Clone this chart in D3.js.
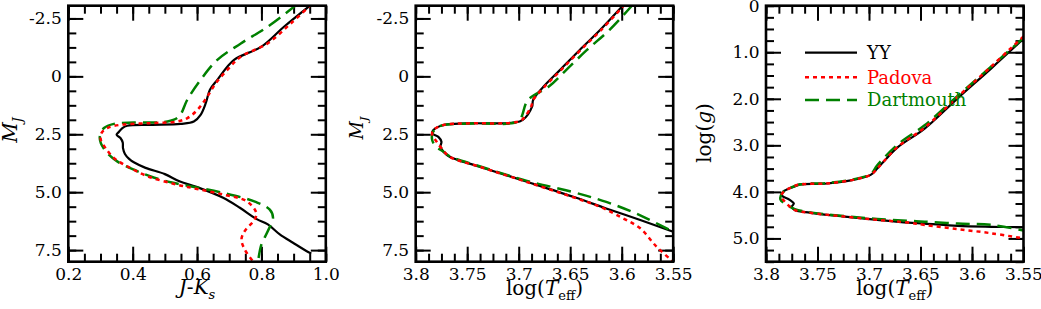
<!DOCTYPE html>
<html>
<head>
<meta charset="utf-8">
<script src="https://cdn.jsdelivr.net/npm/d3@7"></script>
<style>
  body { margin: 0; background: #fff; }
  text { font-family: "DejaVu Serif", serif; }
</style>
</head>
<body>
<svg id="chart" width="1041" height="309"></svg>
<script>
// ---- isochrone tracks ----
// panel 1: [J-Ks, M_J]
var cmdYY = [[0.955,-3.1],[0.87,-2.14],[0.80,-1.28],[0.715,-0.71],[0.663,0.15],[0.640,0.58],[0.627,1.16],[0.611,1.66],
  [0.59,1.95],[0.549,2.05],[0.456,2.09],[0.383,2.13],[0.368,2.23],[0.357,2.40],[0.350,2.52],[0.362,2.66],[0.369,2.85],
  [0.370,3.10],[0.376,3.35],[0.388,3.55],[0.405,3.72],[0.44,3.95],[0.50,4.22],[0.547,4.54],[0.598,4.77],[0.681,5.24],
  [0.733,5.67],[0.784,6.15],[0.820,6.39],[0.857,6.82],[0.898,7.18],[0.945,7.58],[0.955,7.65]];
var cmdPadova = [[0.955,-3.1],[0.891,-2.28],[0.819,-1.42],[0.736,-0.85],[0.694,-0.28],[0.658,0.30],[0.632,0.87],[0.601,1.45],
  [0.570,1.80],[0.539,1.95],[0.456,2.02],[0.363,2.09],[0.321,2.23],[0.303,2.45],[0.301,2.74],[0.316,3.10],[0.342,3.53],
  [0.383,3.88],[0.446,4.31],[0.536,4.67],[0.60,4.86],[0.681,5.10],[0.754,5.39],[0.784,5.89],[0.779,6.18],[0.748,6.68],
  [0.738,7.04],[0.748,7.47],[0.772,7.95]];
var cmdDartmouth = [[0.91,-3.1],[0.819,-2.14],[0.736,-1.42],[0.663,-0.71],[0.611,0.15],[0.570,1.0],[0.544,1.73],[0.508,1.95],
  [0.404,1.99],[0.342,2.05],[0.311,2.23],[0.298,2.59],[0.301,2.88],[0.321,3.31],[0.352,3.67],[0.404,4.03],[0.456,4.32],
  [0.518,4.57],[0.567,4.71],[0.691,5.06],[0.784,5.43],[0.826,5.75],[0.836,6.10],[0.820,6.68],[0.800,7.25],[0.790,7.95]];

// panel 2: [log Teff, M_J]
var hrjYY = [[3.598,-3.1],[3.621,-2.0],[3.641,-1.13],[3.660,-0.27],[3.676,0.45],[3.686,1.02],[3.687,1.31],[3.696,1.88],
  [3.705,2.0],[3.750,2.03],[3.773,2.10],[3.783,2.32],[3.784,2.46],[3.778,2.61],[3.775,2.82],[3.776,3.04],[3.773,3.25],
  [3.767,3.47],[3.738,3.90],[3.692,4.55],[3.647,5.20],[3.615,5.70],[3.582,6.20],[3.55,6.71]];
var hrjPadova = [[3.597,-3.1],[3.620,-2.0],[3.640,-1.13],[3.659,-0.27],[3.675,0.45],[3.686,1.02],[3.688,1.31],[3.697,1.88],
  [3.706,2.0],[3.750,2.03],[3.773,2.10],[3.783,2.32],[3.784,2.50],[3.780,2.80],[3.775,3.10],[3.767,3.47],[3.738,3.90],
  [3.692,4.56],[3.647,5.22],[3.621,5.63],[3.599,6.12],[3.582,6.56],[3.566,7.36],[3.55,8.0]];
var hrjDartmouth = [[3.589,-3.1],[3.612,-2.0],[3.634,-1.13],[3.654,-0.27],[3.671,0.45],[3.691,1.02],[3.699,1.88],
  [3.708,2.03],[3.734,2.03],[3.763,2.06],[3.776,2.14],[3.783,2.39],[3.784,2.75],[3.780,3.04],[3.773,3.25],[3.767,3.45],
  [3.738,3.88],[3.692,4.51],[3.647,5.00],[3.615,5.42],[3.582,6.00],[3.55,6.71]];

// panel 3: [log Teff, log g]
var hrgYY = [[3.55,0.71],[3.581,1.34],[3.614,1.99],[3.646,2.64],[3.672,3.04],[3.685,3.33],[3.692,3.50],[3.698,3.63],
  [3.711,3.72],[3.741,3.82],[3.767,3.84],[3.773,3.89],[3.783,3.99],[3.785,4.07],[3.777,4.17],[3.773,4.25],[3.775,4.32],
  [3.772,4.39],[3.757,4.45],[3.724,4.53],[3.692,4.60],[3.662,4.66],[3.646,4.68],[3.614,4.73],[3.581,4.75],[3.55,4.76]];
var hrgPadova = [[3.55,0.66],[3.581,1.30],[3.614,1.96],[3.646,2.62],[3.672,3.03],[3.685,3.33],[3.692,3.50],[3.698,3.63],
  [3.711,3.72],[3.741,3.82],[3.767,3.84],[3.775,3.90],[3.783,4.00],[3.785,4.10],[3.780,4.25],[3.772,4.39],[3.757,4.45],
  [3.724,4.53],[3.692,4.60],[3.662,4.66],[3.646,4.71],[3.614,4.80],[3.581,4.89],[3.55,5.0]];
var hrgDartmouth = [[3.55,0.69],[3.581,1.30],[3.614,1.94],[3.646,2.57],[3.672,2.98],[3.692,3.43],[3.698,3.61],
  [3.711,3.71],[3.741,3.81],[3.767,3.84],[3.776,3.91],[3.784,4.02],[3.786,4.16],[3.781,4.26],[3.772,4.37],[3.757,4.44],
  [3.724,4.52],[3.692,4.58],[3.662,4.62],[3.646,4.64],[3.614,4.68],[3.581,4.71],[3.55,4.83]];

// ---- axes ----
var jkTicks = [0.2, 0.4, 0.6, 0.8, 1.0];
var jkLabels = ["0.2", "0.4", "0.6", "0.8", "1.0"];
var mjTicks = [-2.5, 0, 2.5, 5, 7.5];
var mjLabels = ["-2.5", "0", "2.5", "5.0", "7.5"];
var teffTicks = [3.8, 3.75, 3.7, 3.65, 3.6, 3.55];
var teffLabels = ["3.8", "3.75", "3.7", "3.65", "3.6", "3.55"];
var loggTicks = [0, 1, 2, 3, 4, 5];
var loggLabels = ["0", "1.0", "2.0", "3.0", "4.0", "5.0"];

var seriesNames = ["YY", "Padova", "Dartmouth"];
var seriesColors = ["#000000", "#ff0000", "#008000"];
var seriesDash = [null, "4,4", "14,7"];
var seriesWidth = [2.2, 2.5, 2.5];

var svg = d3.select("#chart");
var top_ = 5.7, bottom_ = 261.7, pw = 257.5;

var panels = [
  {left: 68.3, xdom: [0.2, 1.0], ydom: [-3.05, 8.0], xt: jkTicks, xl: jkLabels, xminor: 0.05,
   yt: mjTicks, yl: mjLabels, yminor: 0.625, data: [cmdYY, cmdPadova, cmdDartmouth]},
  {left: 415.7, xdom: [3.8, 3.55], ydom: [-3.05, 8.0], xt: teffTicks, xl: teffLabels, xminor: 0.0125,
   yt: mjTicks, yl: mjLabels, yminor: 0.625, data: [hrjYY, hrjPadova, hrjDartmouth]},
  {left: 766, xdom: [3.8, 3.55], ydom: [0, 5.5], xt: teffTicks, xl: teffLabels, xminor: 0.0125,
   yt: loggTicks, yl: loggLabels, yminor: 0.25, data: [hrgYY, hrgPadova, hrgDartmouth]}
];

function minorVals(dom, step) {
  var lo = Math.min(dom[0], dom[1]), hi = Math.max(dom[0], dom[1]);
  var out = [];
  for (var v = Math.ceil(lo / step - 1e-6) * step; v <= hi + 1e-9; v += step) out.push(+v.toFixed(5));
  return out;
}

panels.forEach(function(p, pi) {
  var x = d3.scaleLinear().domain(p.xdom).range([p.left, p.left + pw]);
  var y = d3.scaleLinear().domain(p.ydom).range([top_, bottom_]);
  var g = svg.append("g");

  var clipId = "clip" + pi;
  svg.append("clipPath").attr("id", clipId).append("rect")
    .attr("x", p.left).attr("y", top_).attr("width", pw).attr("height", bottom_ - top_);

  // minor ticks, inward on all four sides
  var xm = minorVals(p.xdom, p.xminor), ym = minorVals(p.ydom, p.yminor);
  function minor(gen, scale, vals, tr) {
    g.append("g").attr("transform", tr)
      .call(gen(scale).tickValues(vals).tickSizeInner(-8).tickSizeOuter(0).tickFormat(""));
  }
  minor(d3.axisBottom, x, xm, "translate(0," + bottom_ + ")");
  minor(d3.axisTop, x, xm, "translate(0," + top_ + ")");
  minor(d3.axisLeft, y, ym, "translate(" + p.left + ",0)");
  minor(d3.axisRight, y, ym, "translate(" + (p.left + pw) + ",0)");

  // major ticks with labels
  g.append("g").attr("transform", "translate(0," + bottom_ + ")")
    .call(d3.axisBottom(x).tickValues(p.xt).tickSizeInner(-15).tickSizeOuter(0).tickPadding(6.5)
      .tickFormat(function(d, i) { return p.xl[i]; }));
  g.append("g").attr("transform", "translate(" + p.left + ",0)")
    .call(d3.axisLeft(y).tickValues(p.yt).tickSizeInner(-15).tickSizeOuter(0).tickPadding(6.5)
      .tickFormat(function(d, i) { return p.yl[i]; }));
  g.append("g").attr("transform", "translate(0," + top_ + ")")
    .call(d3.axisTop(x).tickValues(p.xt).tickSizeInner(-15).tickSizeOuter(0).tickFormat(""));
  g.append("g").attr("transform", "translate(" + (p.left + pw) + ",0)")
    .call(d3.axisRight(y).tickValues(p.yt).tickSizeInner(-15).tickSizeOuter(0).tickFormat(""));
  g.selectAll(".domain").remove();
  g.selectAll(".tick line").attr("stroke", "#000").attr("stroke-width", 2);
  g.selectAll(".tick text").attr("font-size", 17).attr("fill", "#000").style("font-family", "DejaVu Serif");

  // curves
  var line = d3.line().x(function(d) { return x(d[0]); }).y(function(d) { return y(d[1]); })
    .curve(d3.curveCatmullRom.alpha(0.5));
  var cg = svg.append("g").attr("clip-path", "url(#" + clipId + ")");
  [0, 2, 1].forEach(function(si) {
    cg.append("path").datum(p.data[si])
      .attr("d", line)
      .attr("fill", "none")
      .attr("stroke", seriesColors[si])
      .attr("stroke-width", seriesWidth[si])
      .attr("stroke-dasharray", seriesDash[si]);
  });

  // frame
  svg.append("rect").attr("x", p.left).attr("y", top_).attr("width", pw).attr("height", bottom_ - top_)
    .attr("fill", "none").attr("stroke", "#000").attr("stroke-width", 2.6);
});

// axis titles
var t1 = svg.append("text").attr("x", 68.3 + pw / 2).attr("y", 294).attr("text-anchor", "middle").attr("font-size", 20);
t1.append("tspan").attr("font-style", "italic").text("J");
t1.append("tspan").text("-");
t1.append("tspan").attr("font-style", "italic").text("K");
t1.append("tspan").attr("font-style", "italic").attr("font-size", 13).attr("dy", 5).text("s");

[415.7, 766].forEach(function(left) {
  var t = svg.append("text").attr("x", left + pw / 2).attr("y", 295).attr("text-anchor", "middle").attr("font-size", 20);
  t.append("tspan").text("log(");
  t.append("tspan").attr("font-style", "italic").text("T");
  t.append("tspan").attr("font-size", 13).attr("dy", 5).text("eff");
  t.append("tspan").attr("dy", -5).text(")");
});

function mjTitle(cx, cy, size) {
  var t = svg.append("text").attr("transform", "translate(" + cx + "," + cy + ") rotate(-90)")
    .attr("text-anchor", "middle").attr("font-size", size);
  t.append("tspan").attr("font-style", "italic").text("M");
  t.append("tspan").attr("font-style", "italic").attr("font-size", size * 0.65).attr("dy", size * 0.25).text("J");
}
mjTitle(17, 130, 20);
mjTitle(363, 128, 18);

var tg = svg.append("text").attr("transform", "translate(711,133) rotate(-90)")
  .attr("text-anchor", "middle").attr("font-size", 20);
tg.append("tspan").text("log(");
tg.append("tspan").attr("font-style", "italic").text("g");
tg.append("tspan").text(")");

// legend
var legY = [52.7, 77.3, 100];
seriesNames.forEach(function(name, i) {
  svg.append("line").attr("x1", 805).attr("x2", 857).attr("y1", legY[i]).attr("y2", legY[i])
    .attr("stroke", seriesColors[i]).attr("stroke-width", seriesWidth[i]).attr("stroke-dasharray", seriesDash[i]);
  svg.append("text").attr("x", 867).attr("y", legY[i]).attr("dy", "0.35em").attr("font-size", 18)
    .attr("fill", seriesColors[i]).text(name);
});
</script>
</body>
</html>
